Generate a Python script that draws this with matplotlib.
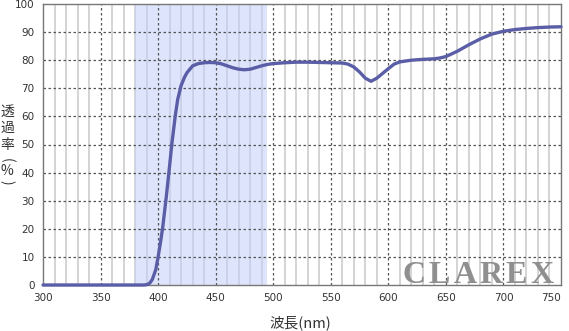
import numpy as np
import matplotlib.pyplot as plt

# 透過率データ (波長 nm, 透過率 %)
wavelength = [300, 320, 340, 360, 380, 388, 391, 393, 395, 398, 400, 402, 404, 407,
              410, 412, 415, 417, 420, 423, 425, 430, 435, 440, 445, 450, 455, 460,
              465, 470, 475, 480, 485, 490, 495, 500, 510, 520, 530, 540, 550, 560,
              565, 570, 575, 580, 585, 590, 595, 600, 605, 610, 620, 630, 640, 645,
              650, 660, 670, 680, 690, 700, 710, 720, 730, 740, 750]
transmittance = [0, 0, 0, 0, 0, 0, 0.2, 0.8, 2.0, 5.5, 10, 15, 20.5, 31,
                 42.5, 50.5, 60.5, 66, 71, 74, 75.5, 78, 78.8, 79.1, 79.2, 79.1, 78.7, 78.0,
                 77.3, 76.8, 76.6, 76.8, 77.4, 78.0, 78.5, 78.8, 79.1, 79.3, 79.3, 79.2, 79.1, 79.0,
                 78.6, 77.6, 75.8, 73.6, 72.5, 73.6, 75.3, 77.0, 78.6, 79.4, 80.0, 80.3, 80.5, 80.8,
                 81.3, 83.2, 85.5, 87.6, 89.3, 90.3, 90.9, 91.3, 91.6, 91.8, 91.9]

band = (380, 495)
x_major = [300, 350, 400, 450, 500, 550, 600, 650, 700, 750]
x_minor = [v for v in range(310, 750, 10) if v % 50 != 0]
y_major = list(range(0, 101, 10))
ylabel_chars = ["透", "過", "率", "(", "%", ")"]

W, H = 569, 331
fig = plt.figure(figsize=(W / 100, H / 100), dpi=100)
ax = fig.add_axes([43 / W, 1 - 285 / H, 518 / W, 281 / H])

for v in x_minor:
    ax.axvline(v, color="#d4d4d4", lw=1.4, zorder=0.5)
ax.axvspan(*band, color="#c4cff8", alpha=0.55, lw=0, zorder=1)
for v in x_major[1:-1]:
    ax.axvline(v, color="#555555", lw=0.9, ls=(0, (2, 2)), zorder=2)
for v in y_major[1:-1]:
    ax.axhline(v, color="#555555", lw=0.9, ls=(0, (2, 2)), zorder=2)

ax.plot(wavelength, transmittance, color="#5a5ea6", lw=2.4, zorder=3,
        solid_capstyle="round", clip_on=False)

ax.set_xlim(300, 750)
ax.set_ylim(0, 100)
ax.set_xticks(x_major)
ax.set_yticks(y_major)
ax.tick_params(length=0, labelsize=7.5, labelcolor="#333333", pad=6)
ax.get_xticklabels()[-1].set_ha("right")
for s in ax.spines.values():
    s.set_color("#777777")
    s.set_linewidth(1)

# ロゴ (文字ごとに配置)
for ch, xc in zip("CLAREX", np.linspace(414, 542, 6)):
    fig.text(xc / W, 1 - 283 / H, ch, ha="center", va="baseline",
             fontsize=23, fontweight="bold", family="Liberation Serif",
             color="#8f8f8f", zorder=4)

fig.text(300 / W, 1 - 323 / H, "波長(nm)", ha="center", va="center",
         fontsize=10.5, family=["Noto Sans CJK JP", "DejaVu Sans"], color="#333333")
# 縦書きラベル: 括弧は回転
for ch, yc in zip(ylabel_chars, [112, 128, 145, 160, 171, 182]):
    rot = -90 if ch in "()" else 0
    fig.text(7 / W, 1 - yc / H, ch, ha="center", va="center", rotation=rot,
             fontsize=10, family=["Noto Sans CJK JP", "DejaVu Sans"], color="#333333")

fig.savefig("out.png", dpi=100)
